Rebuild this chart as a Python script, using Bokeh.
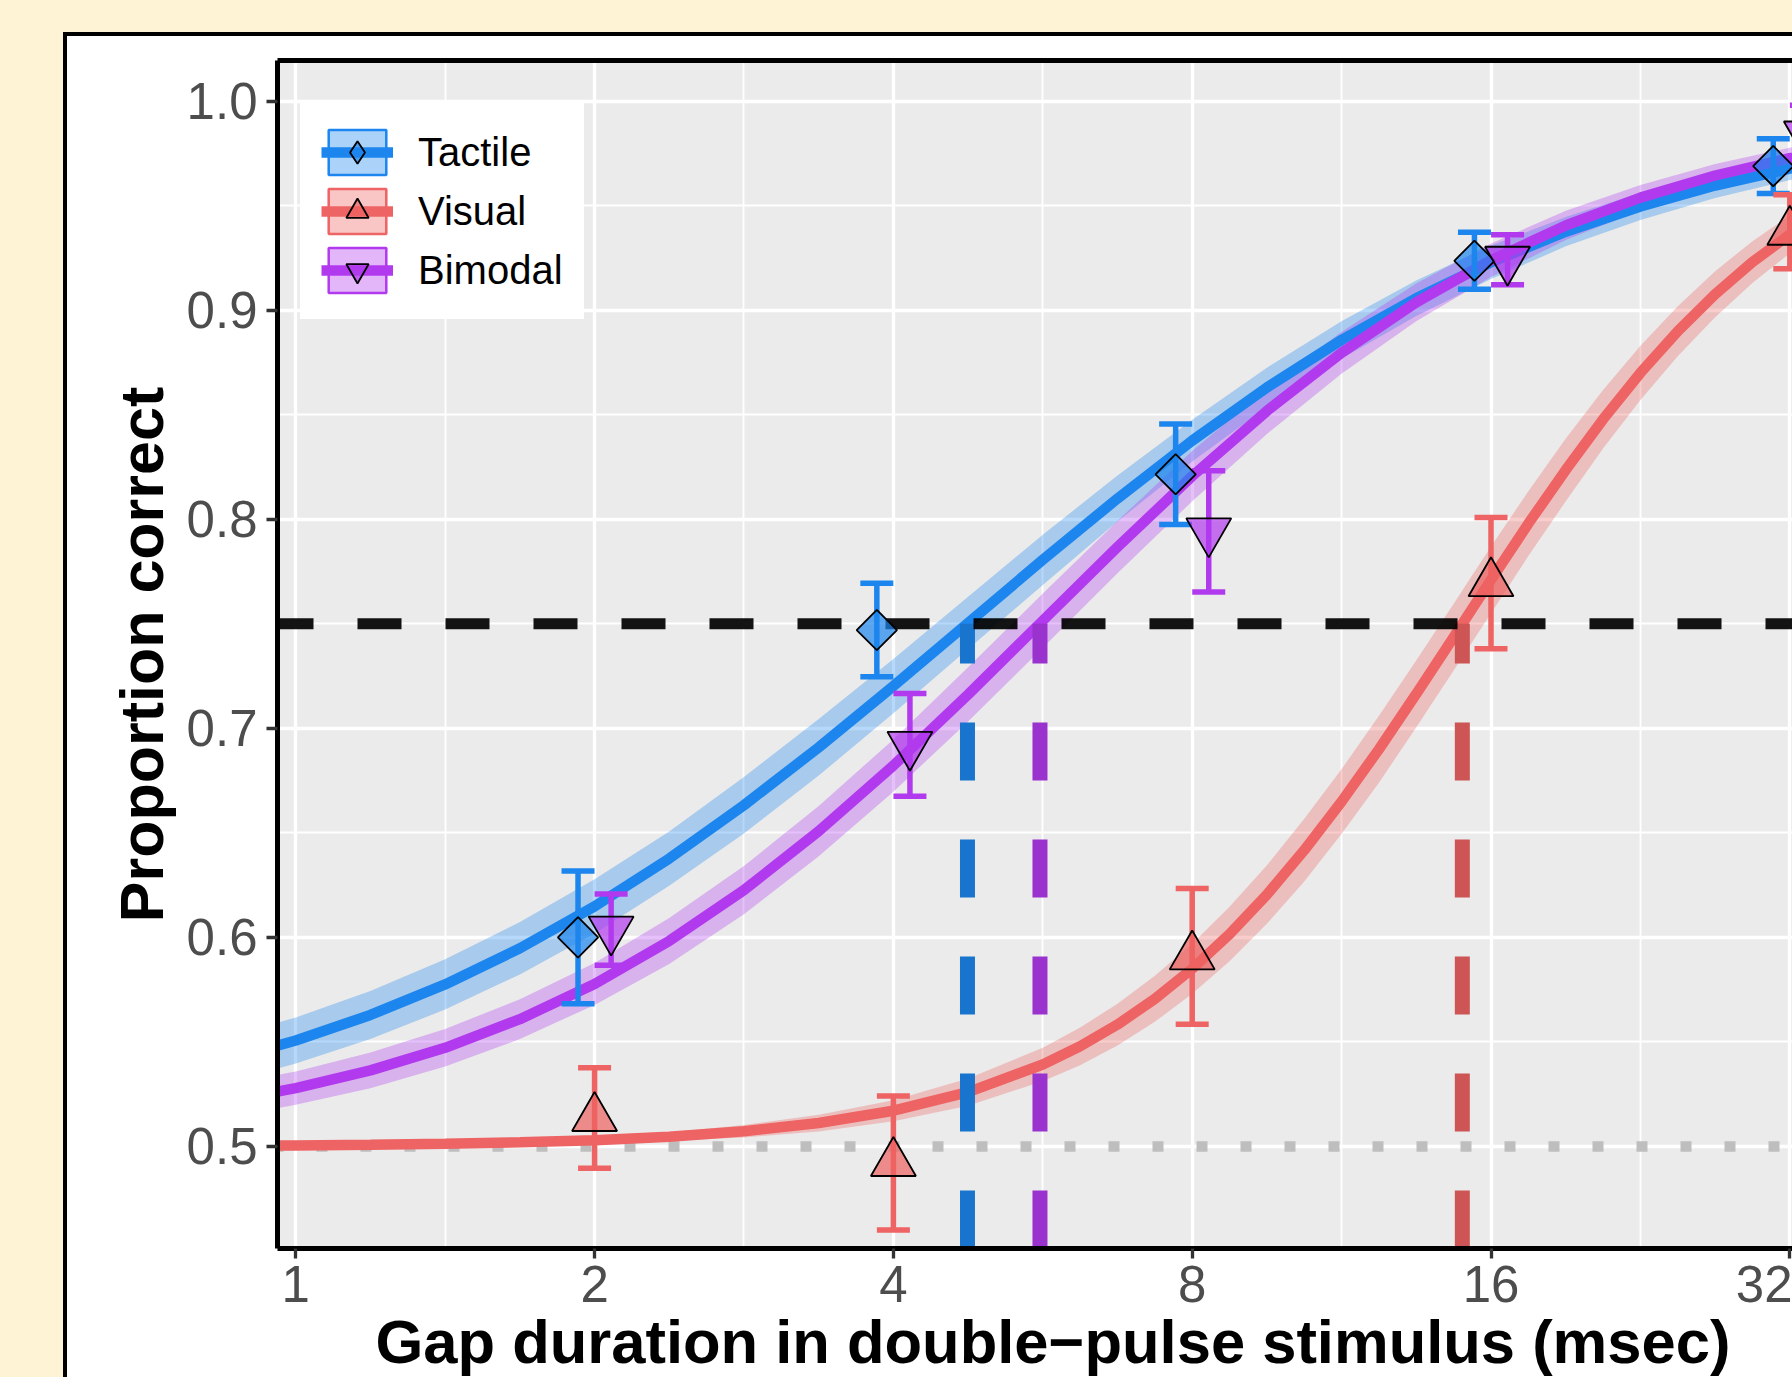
import math
from bokeh.plotting import figure
from bokeh.models import (Range1d, FixedTicker, BasicTickFormatter, NumeralTickFormatter,
                          LogAxis, Legend, LegendItem, Title)
from bokeh.embed import file_html
from bokeh.resources import INLINE

# ---------------- data ----------------
gap_ms = [2, 4, 8, 16, 32]
series = ["Tactile", "Visual", "Bimodal"]

tactile_mean = [0.600, 0.747, 0.8215, 0.9236, 0.9689]
tactile_se = [0.0317, 0.0224, 0.0240, 0.0136, 0.0131]
visual_mean = [0.5136, 0.4921, 0.5909, 0.7694, 0.9375]
visual_se = [0.0240, 0.0320, 0.0325, 0.0314, 0.0177]
bimodal_mean = [0.6037, 0.6921, 0.7942, 0.9241, 0.9840]
bimodal_se = [0.0170, 0.0246, 0.0290, 0.0120, 0.0140]

# 75%-correct thresholds (msec)
threshold_ms = [4.75, 14.97, 5.62]

# fitted psychometric curves with their confidence bands
fit_x = [0.841, 1.0, 1.189, 1.414, 1.682, 2.0, 2.378, 2.828, 3.364, 4.0, 4.757, 5.657,
         6.727, 8.0, 9.514, 11.31, 13.45, 16.0, 19.03, 22.63, 26.91, 32.0, 38.05]
tactile_fit = [0.5407, 0.5507, 0.5629, 0.5775, 0.5948, 0.6148, 0.6377, 0.6632, 0.6909,
               0.7202, 0.7504, 0.7806, 0.8099, 0.8376, 0.8630, 0.8857, 0.9057, 0.9229,
               0.9375, 0.9496, 0.9596, 0.9677, 0.9743]
tactile_band = [0.011, 0.011, 0.0115, 0.012, 0.0125, 0.013, 0.013, 0.0135, 0.0135, 0.013,
                0.0125, 0.012, 0.011, 0.010, 0.0095, 0.009, 0.0085, 0.008, 0.007, 0.0065,
                0.006, 0.0055, 0.005]
bimodal_fit = [0.5213, 0.5279, 0.5364, 0.5472, 0.5609, 0.5777, 0.5983, 0.6226, 0.6508,
               0.6822, 0.7162, 0.7515, 0.7867, 0.8206, 0.8518, 0.8796, 0.9037, 0.9239,
               0.9405, 0.9538, 0.9644, 0.9727, 0.9792]
bimodal_band = [0.008, 0.008, 0.0085, 0.009, 0.0095, 0.010, 0.011, 0.0115, 0.012, 0.0125,
                0.013, 0.013, 0.0125, 0.012, 0.011, 0.010, 0.009, 0.008, 0.007, 0.006,
                0.0055, 0.005, 0.0045]
visual_fit_x = [0.841, 1.0, 1.189, 1.414, 1.682, 2.0, 2.378, 2.828, 3.364, 4.0, 4.757,
                5.657, 6.169, 6.727, 7.336, 8.0, 8.724, 9.514, 10.375, 11.31, 12.338,
                13.45, 14.672, 16.0, 17.448, 19.03, 20.749, 22.63, 24.675, 26.91, 29.344,
                32.0, 34.897, 38.05]
visual_fit = [0.5003, 0.5005, 0.5008, 0.5013, 0.5020, 0.5030, 0.5047, 0.5073, 0.5112,
              0.5171, 0.5260, 0.5392, 0.5479, 0.5583, 0.5706, 0.5850, 0.6016, 0.6205,
              0.6417, 0.6649, 0.6900, 0.7164, 0.7436, 0.7710, 0.7979, 0.8236, 0.8478,
              0.8700, 0.8899, 0.9076, 0.9230, 0.9362, 0.9475, 0.9569]
visual_band = [0.0005, 0.0005, 0.0005, 0.0005, 0.001, 0.0015, 0.002, 0.003, 0.004, 0.005,
               0.0065, 0.008, 0.009, 0.010, 0.011, 0.012, 0.013, 0.014, 0.015, 0.0155,
               0.016, 0.016, 0.016, 0.016, 0.0155, 0.015, 0.014, 0.013, 0.012, 0.011,
               0.010, 0.009, 0.008, 0.007]

chance_level = 0.5
criterion_level = 0.75

x_ticks = [1, 2, 4, 8, 16, 32]
x_minor = [0.7071, 1.4142, 2.8284, 5.6569, 11.3137, 22.6274]
y_ticks = [0.5, 0.6, 0.7, 0.8, 0.9, 1.0]
y_minor = [0.55, 0.65, 0.75, 0.85, 0.95]

# ---------------- styles ----------------
LINE_COL = {"Tactile": "#1C86EE", "Visual": "#EE6363", "Bimodal": "#B23AEE"}
DARK_COL = {"Tactile": "#1874CD", "Visual": "#CD5555", "Bimodal": "#9A32CD"}
MARKER = {"Tactile": "square", "Visual": "triangle", "Bimodal": "inverted_triangle"}
LEG_MARKER = {"Tactile": "diamond", "Visual": "triangle", "Bimodal": "inverted_triangle"}
ANGLE = {"Tactile": math.pi / 4, "Visual": 0.0, "Bimodal": 0.0}
MSIZE = {"Tactile": 28.5, "Visual": 45, "Bimodal": 45}
DODGE = {"Tactile": 2 ** -0.0554, "Visual": 1.0, "Bimodal": 2 ** 0.0554}
FONT = "Liberation Sans"

X_START, X_END = 0.9585, 32.2
Y_START, Y_END = 0.4512, 1.0194

p = figure(x_axis_type="log", x_range=Range1d(X_START, X_END),
           y_range=Range1d(Y_START, Y_END),
           frame_width=1515, frame_height=1188,
           min_border_left=210, min_border_top=24, min_border_right=0, min_border_bottom=220,
           output_backend="svg", toolbar_location=None, title=None,
           background_fill_color="#EBEBEB", border_fill_color="white",
           outline_line_color=None)
p.margin = (36, -300, -300, 67)
p.styles = {"box-shadow": "-2px -2px 0 2px #000000, 0 0 0 4000px #FFF3D5"}

# axes
p.xaxis.ticker = FixedTicker(ticks=x_ticks, minor_ticks=x_minor)
p.xaxis.formatter = BasicTickFormatter(use_scientific=False)
p.yaxis.ticker = FixedTicker(ticks=y_ticks, minor_ticks=y_minor)
p.yaxis.formatter = NumeralTickFormatter(format="0.0")
for ax in (p.xaxis[0], p.yaxis[0]):
    ax.axis_line_color = "black"
    ax.axis_line_width = 5
    ax.major_tick_line_color = "#333333"
    ax.major_tick_line_width = 3.3
    ax.major_tick_in = 0
    ax.minor_tick_line_color = None
    ax.major_label_text_font = FONT
    ax.major_label_text_font_size = "51px"
    ax.major_label_text_color = "#4D4D4D"
p.yaxis.major_tick_out = 11
p.yaxis.major_label_standoff = 9
p.xaxis.major_tick_out = 10
p.xaxis.major_label_standoff = 7
p.yaxis.axis_label = "Proportion correct"
p.yaxis.axis_label_text_font = FONT
p.yaxis.axis_label_text_font_size = "61px"
p.yaxis.axis_label_text_font_style = "bold"
p.yaxis.axis_label_text_color = "black"
p.yaxis.axis_label_standoff = 8

top_axis = LogAxis(ticker=FixedTicker(ticks=[]), axis_line_color="black", axis_line_width=5,
                   major_tick_line_color=None, minor_tick_line_color=None,
                   major_label_text_font_size="0px", major_label_standoff=0,
                   major_tick_out=0, major_tick_in=0)
p.add_layout(top_axis, "above")

xtitle = Title(text="Gap duration in double\u2212pulse stimulus (msec)", align="left",
               offset=98, text_font=FONT, text_font_size="61.5px", text_font_style="bold",
               text_color="black", standoff=4, vertical_align="top")
p.add_layout(xtitle, "below")

# grid
p.xgrid.grid_line_color = "white"
p.xgrid.grid_line_width = 3.3
p.xgrid.minor_grid_line_color = "white"
p.xgrid.minor_grid_line_width = 1.8
p.ygrid.grid_line_color = "white"
p.ygrid.grid_line_width = 3.3
p.ygrid.minor_grid_line_color = "white"
p.ygrid.minor_grid_line_width = 1.8

# chance level (dotted), drawn left to right across the panel
p.segment(x0=[X_START], y0=[chance_level], x1=[X_END], y1=[chance_level],
          line_color="#BEBEBE", line_width=10.5, line_dash="11 33", line_dash_offset=5)

curves = {
    "Tactile": (fit_x, tactile_fit, tactile_band),
    "Visual": (visual_fit_x, visual_fit, visual_band),
    "Bimodal": (fit_x, bimodal_fit, bimodal_band),
}
points = {
    "Tactile": (tactile_mean, tactile_se),
    "Visual": (visual_mean, visual_se),
    "Bimodal": (bimodal_mean, bimodal_se),
}

# ribbons
for s in series:
    cx, cy, cb = curves[s]
    p.varea(x=cx, y1=[y - b for y, b in zip(cy, cb)], y2=[y + b for y, b in zip(cy, cb)],
            fill_color=LINE_COL[s], fill_alpha=0.32)

# fitted lines
line_r = {}
for s in series:
    cx, cy, cb = curves[s]
    line_r[s] = p.line(cx, cy, line_color=LINE_COL[s], line_width=10.5)

# thresholds (vertical dashed from bottom up to criterion)
p.segment(x0=threshold_ms, y0=[Y_START] * 3, x1=threshold_ms, y1=[criterion_level] * 3,
          line_color=[DARK_COL[s] for s in series], line_width=15, line_dash="58 59")

# criterion line
p.segment(x0=[X_START], y0=[criterion_level], x1=[X_END], y1=[criterion_level],
          line_color="black", line_alpha=0.92, line_width=11,
          line_dash="44 44", line_dash_offset=8)

# error bars
legend_box = {}
for s in series:
    m, se = points[s]
    xs = [g * DODGE[s] for g in gap_ms]
    lo = [a - b for a, b in zip(m, se)]
    hi = [a + b for a, b in zip(m, se)]
    p.segment(x0=xs, y0=lo, x1=xs, y1=hi, line_color=LINE_COL[s], line_width=5.5)
    p.scatter(xs, hi, marker="dash", size=33, line_color=LINE_COL[s], line_width=5.5)
    p.scatter(xs, lo, marker="dash", size=33, line_color=LINE_COL[s], line_width=5.5)
    legend_box[s] = p.quad(left=xs, right=xs, bottom=lo, top=hi, fill_color=LINE_COL[s],
                           fill_alpha=0.37, line_color=LINE_COL[s], line_width=2.5,
                           visible=False)

# points
legend_pt = {}
for s in series:
    m, se = points[s]
    xs = [g * DODGE[s] for g in gap_ms]
    p.scatter(xs, m, marker=MARKER[s], size=MSIZE[s], angle=ANGLE[s],
              fill_color=LINE_COL[s], fill_alpha=0.7, line_color="black", line_width=1.8)
    legend_pt[s] = p.scatter(xs, m, marker=LEG_MARKER[s], size=MSIZE[s],
                             fill_color=LINE_COL[s], fill_alpha=0.7, line_color="black",
                             line_width=1.8, visible=False)

legend = Legend(items=[LegendItem(label=s, renderers=[legend_box[s], line_r[s], legend_pt[s]])
                       for s in series],
                location=(23, 929), padding=20, spacing=3, glyph_width=72, glyph_height=56,
                label_standoff=25, label_text_font=FONT, label_text_font_size="40px",
                label_text_color="black", background_fill_color="white",
                background_fill_alpha=1.0, border_line_color="white", border_line_width=1,
                margin=0)
p.add_layout(legend)

open("out.html", "w").write(file_html(p, INLINE))
